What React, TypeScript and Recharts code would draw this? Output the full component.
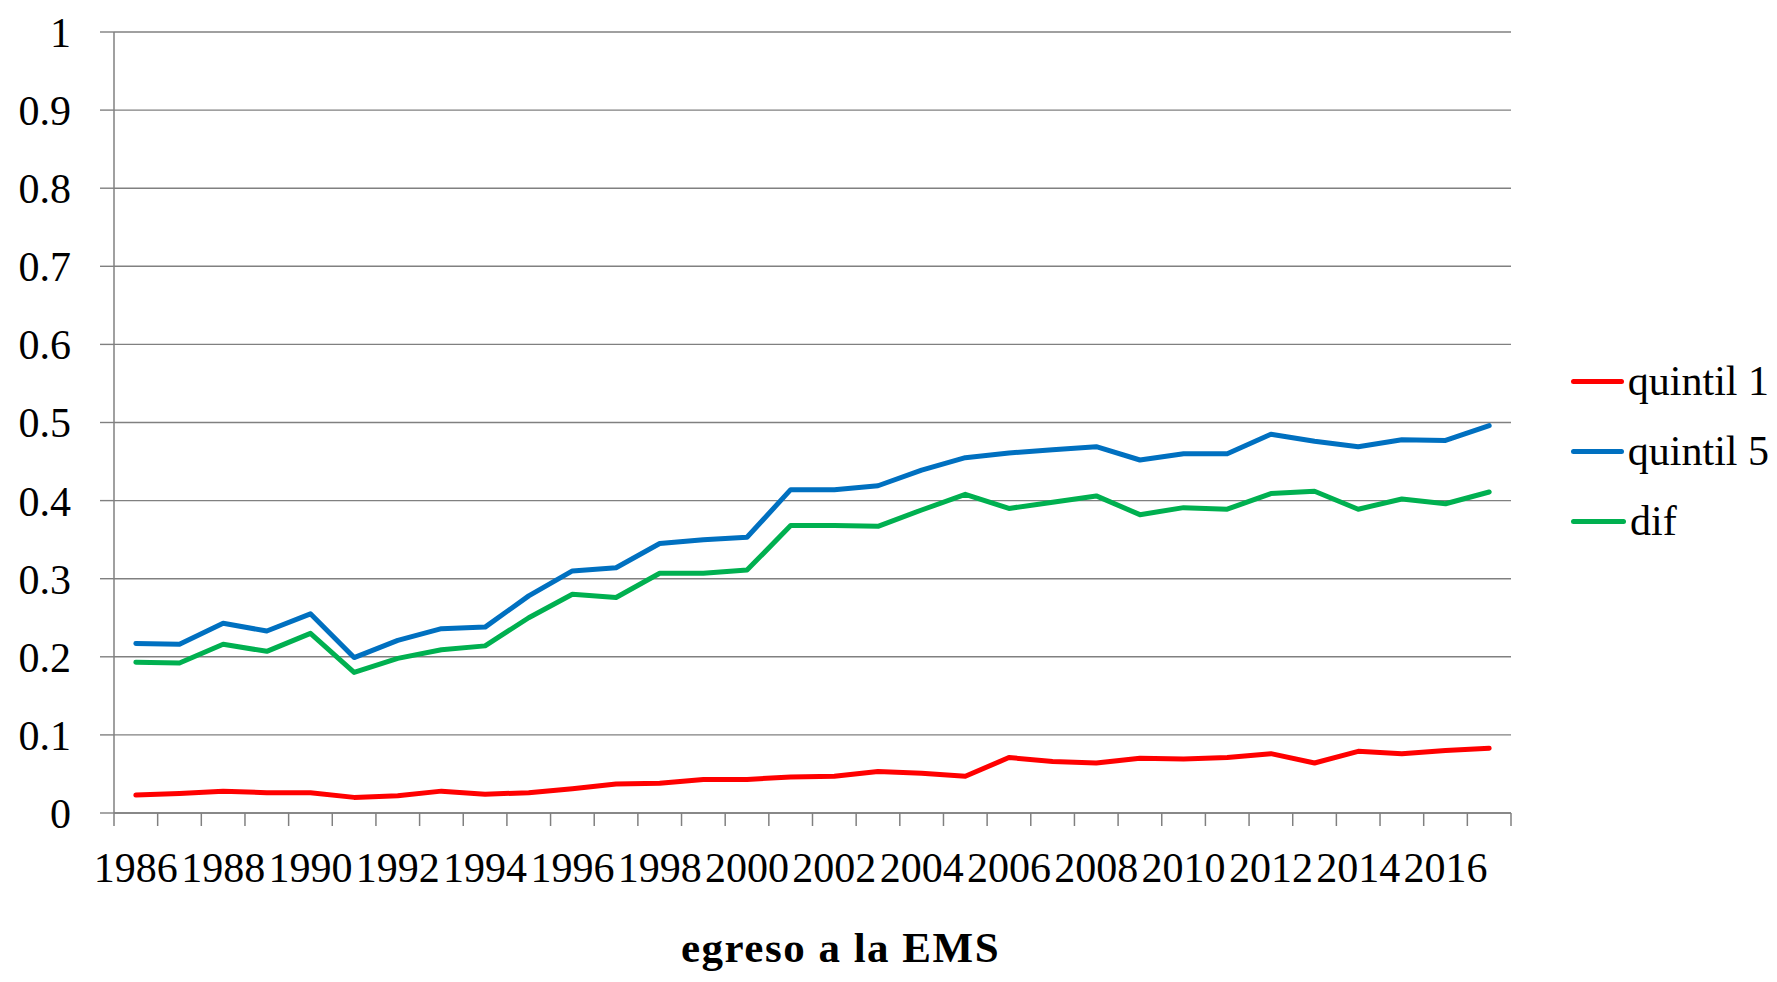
import React from "react";
import { LineChart, Line, XAxis, YAxis, CartesianGrid, Legend, Label } from "recharts";

const years = [
  "1986", "1987", "1988", "1989", "1990", "1991", "1992", "1993", "1994", "1995",
  "1996", "1997", "1998", "1999", "2000", "2001", "2002", "2003", "2004", "2005",
  "2006", "2007", "2008", "2009", "2010", "2011", "2012", "2013", "2014", "2015",
  "2016", "2017",
];

const quintil1 = [
  0.023, 0.025, 0.028, 0.026, 0.026, 0.020, 0.022, 0.028, 0.024, 0.026,
  0.031, 0.037, 0.038, 0.043, 0.043, 0.046, 0.047, 0.053, 0.051, 0.047,
  0.071, 0.066, 0.064, 0.070, 0.069, 0.071, 0.076, 0.064, 0.079, 0.076,
  0.080, 0.083,
];

const quintil5 = [
  0.217, 0.216, 0.243, 0.233, 0.255, 0.199, 0.221, 0.236, 0.238, 0.278,
  0.310, 0.314, 0.345, 0.350, 0.353, 0.414, 0.414, 0.419, 0.439, 0.455,
  0.461, 0.465, 0.469, 0.452, 0.460, 0.460, 0.485, 0.476, 0.469, 0.478,
  0.477, 0.496,
];

const dif = [
  0.193, 0.192, 0.216, 0.207, 0.230, 0.180, 0.198, 0.209, 0.214, 0.250,
  0.280, 0.276, 0.307, 0.307, 0.311, 0.368, 0.368, 0.367, 0.388, 0.408,
  0.390, 0.398, 0.406, 0.382, 0.391, 0.389, 0.409, 0.412, 0.389, 0.402,
  0.396, 0.411,
];

const yTicks = [0, 0.1, 0.2, 0.3, 0.4, 0.5, 0.6, 0.7, 0.8, 0.9, 1];

const seriesInfo = [
  { key: "q1", name: "quintil 1", color: "#FF0000" },
  { key: "q5", name: "quintil 5", color: "#0070C0" },
  { key: "dif", name: "dif", color: "#00B050" },
];

const data = years.map((y, i) => ({ year: y, q1: quintil1[i], q5: quintil5[i], dif: dif[i] }));

const FONT = "'Liberation Serif', 'Times New Roman', serif";
const AXIS_COLOR = "#808080";
const X_TICK_SIZE = 13;
const X_TICK_MARGIN = 26;

const XTick = (props: any) => {
  const { x, y, payload, index } = props;
  const half = payload && typeof payload.offset === "number" && payload.offset > 0 ? payload.offset : 21.83;
  const axisY = y - X_TICK_SIZE - X_TICK_MARGIN;
  const isLast = index === years.length - 1;
  return (
    <g>
      <line x1={x - half} x2={x - half} y1={axisY} y2={axisY + X_TICK_SIZE} stroke={AXIS_COLOR} strokeWidth={1.5} />
      {isLast && (
        <line x1={x + half} x2={x + half} y1={axisY} y2={axisY + X_TICK_SIZE} stroke={AXIS_COLOR} strokeWidth={1.5} />
      )}
      {index % 2 === 0 && (
        <text x={x} y={y} dy="0.71em" textAnchor="middle" fill="#000" fontSize={42} fontFamily={FONT}>
          {payload.value}
        </text>
      )}
    </g>
  );
};

const LegendContent = () => (
  <div style={{ fontFamily: FONT, fontSize: 42, color: "#000" }}>
    {seriesInfo.map((s) => (
      <div key={s.key} style={{ height: 70, display: "flex", alignItems: "center" }}>
        <div style={{ width: 55, height: 5, borderRadius: 3, background: s.color, marginRight: 4 }} />
        <span style={{ whiteSpace: "nowrap" }}>{s.name}</span>
      </div>
    ))}
  </div>
);

export default function App() {
  return (
    <div style={{ width: 1761, height: 966 }}>
      <LineChart
        width={1761}
        height={966}
        data={data}
        margin={{ top: 24, right: 258, bottom: 61, left: 0 }}
      >
        <CartesianGrid vertical={false} stroke={AXIS_COLOR} strokeWidth={1.4} />
        <XAxis
          dataKey="year"
          scale="band"
          interval={0}
          height={100}
          tickLine={false}
          tickSize={X_TICK_SIZE}
          tickMargin={X_TICK_MARGIN}
          tick={<XTick />}
          axisLine={{ stroke: AXIS_COLOR, strokeWidth: 1.5 }}
        >
          <Label
            value="egreso a la EMS"
            position="bottom"
            offset={18}
            dx={28}
            style={{ fontFamily: FONT, fontSize: 43, fontWeight: "bold", fill: "#000", letterSpacing: 1.5 }}
          />
        </XAxis>
        <YAxis
          width={106}
          domain={[0, 1]}
          ticks={yTicks}
          interval={0}
          tickSize={14}
          tickMargin={29}
          tickLine={{ stroke: AXIS_COLOR, strokeWidth: 1.4 }}
          axisLine={{ stroke: AXIS_COLOR, strokeWidth: 1.5 }}
          tick={{ fill: "#000", fontSize: 42, fontFamily: FONT }}
          tickFormatter={(v: number) => String(v)}
        />
        <Legend
          layout="horizontal"
          align="center"
          verticalAlign="middle"
          wrapperStyle={{ left: 1563, top: 338, width: 198, height: 210 }}
          content={<LegendContent />}
        />
        {seriesInfo.map((s) => (
          <Line
            key={s.key}
            type="linear"
            dataKey={s.key}
            name={s.name}
            stroke={s.color}
            strokeWidth={5}
            strokeLinejoin="round"
            strokeLinecap="round"
            dot={false}
            activeDot={false}
            isAnimationActive={false}
          />
        ))}
      </LineChart>
    </div>
  );
}
